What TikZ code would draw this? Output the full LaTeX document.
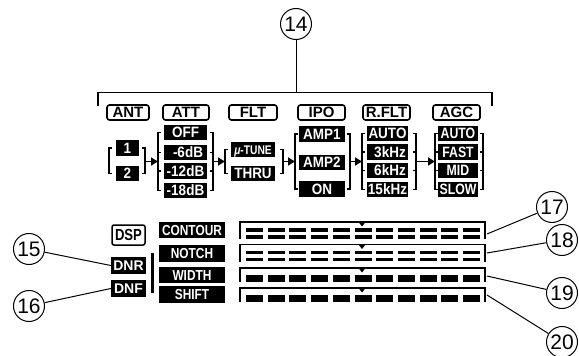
\documentclass[tikz,border=0pt]{standalone}
\usepackage{fontspec}
\setmainfont{Liberation Sans}
\newfontfamily\condA[FakeStretch=0.9]{Liberation Sans}
\newfontfamily\condB[FakeStretch=0.82]{Liberation Sans}
\usetikzlibrary{arrows.meta}
\tikzset{
  hdr/.style={draw, line width=1.6pt, rounded corners=2.5pt, inner sep=0pt, minimum height=15pt, text height=10.6pt, text depth=0pt, font=\fontsize{15}{15}\selectfont\bfseries},
  optbox/.style={fill=black, text=white, inner sep=0pt, minimum height=15.5pt, text height=10.6pt, text depth=0pt, font=\condA\fontsize{15}{15}\selectfont\bfseries},
  optc/.style={optbox, font=\condB\fontsize{15}{15}\selectfont\bfseries},
  lbl/.style={optbox, minimum height=16.5pt, minimum width=66pt, text height=10.2pt, font=\condB\fontsize{14.5}{14.5}\selectfont\bfseries},
  dbox/.style={optbox, minimum width=35pt, minimum height=17pt, text height=10pt, font=\fontsize{14}{14}\selectfont\bfseries},
  brk/.style={line width=1.3pt},
  arr/.style={line width=1.5pt, -{Triangle[length=7pt,width=8pt]}},
  num/.style={circle, draw, line width=1pt, minimum size=31pt, inner sep=0pt, font=\fontsize{21}{21}\selectfont},
  lead/.style={line width=1pt},
  meterline/.style={line width=1.8pt},
}
\newcommand\brkt[5]{%
  \draw[brk] ({#1+(#2)},#3) -- (#1,#3) -- (#1,#4) -- ({#1+(#2)},#4);
  \foreach \yy in {#5} {\draw[brk] (#1,\yy) -- ++(#2,0);}
}
\begin{document}
\begin{tikzpicture}[x=1pt,y=-1pt]
\useasboundingbox (0,0) rectangle (579,356);

% callout 14 and bracket line
\node[num] (c14) at (296,24) {14};
\coordinate (t14) at (296,92.5);
\draw[lead] (c14) -- (t14);
\draw[line width=1.3pt] (98,106) -- (98,92.5) -- (492,92.5) -- (492,106);

% headers
\node[hdr, minimum width=42pt] (hANT) at (128,112.5) {ANT};
\node[hdr, minimum width=46pt] (hATT) at (186,112.5) {ATT};
\node[hdr, minimum width=48pt] (hFLT) at (253,112.5) {FLT};
\node[hdr, minimum width=47pt] (hIPO) at (321.5,112.5) {IPO};
\node[hdr, minimum width=47pt] (hRF) at (386.5,112.5) {R.FLT};
\node[hdr, minimum width=47pt] (hAGC) at (456.5,112.5) {AGC};

% ANT
\node[optbox, minimum width=23pt] (a1) at (127.5,148) {1};
\node[optbox, minimum width=23pt] (a2) at (127.5,173.5) {2};
\brkt{109}{3}{148}{173.5}{148}
\brkt{145}{-3}{148}{173.5}{148}

% ATT
\node[optbox, minimum width=43pt] (t1) at (185.5,132.5) {OFF};
\node[optbox, minimum width=43pt] (t2) at (185.5,152.5) {\hspace*{5pt}-6dB};
\node[optbox, minimum width=43pt] (t3) at (185.5,171) {-12dB};
\node[optbox, minimum width=43pt] (t4) at (185.5,190.5) {-18dB};
\brkt{158}{3}{132.5}{190.5}{152.5,171}
\brkt{213}{-3}{132.5}{190.5}{152.5,171}

% FLT
\node[optbox, minimum width=44pt, font=\condB\fontsize{12.5}{12.5}\selectfont\bfseries, text height=9pt] (f1) at (253,149.5) {{\itshape μ}-TUNE};
\node[optbox, minimum width=44pt] (f2) at (253,173.5) {THRU};
\brkt{225}{3}{149.5}{173.5}{149.5}
\brkt{283}{-3}{149.5}{173.5}{149.5}

% IPO
\node[optbox, minimum width=46pt] (i1) at (322,134) {AMP1};
\node[optbox, minimum width=46pt] (i2) at (322,162.5) {AMP2};
\node[optbox, minimum width=46pt] (i3) at (322,189) {ON};
\brkt{295}{3}{134}{189}{134}
\brkt{350}{-3}{134}{189}{134}

% R.FLT
\node[optbox, minimum width=41pt] (r1) at (387.5,133.5) {AUTO};
\node[optbox, minimum width=41pt] (r2) at (387.5,152) {\hspace*{5pt}3kHz};
\node[optbox, minimum width=41pt] (r3) at (387.5,170.5) {\hspace*{5pt}6kHz};
\node[optbox, minimum width=41pt] (r4) at (387.5,189.5) {15kHz};
\brkt{362}{3}{133.5}{189.5}{152,170.5}
\brkt{416}{-3}{133.5}{189.5}{152,170.5}

% AGC
\node[optc, minimum width=40pt] (g1) at (458,133.5) {AUTO};
\node[optc, minimum width=40pt] (g2) at (458,152) {FAST};
\node[optc, minimum width=40pt] (g3) at (458,170.5) {MID};
\node[optc, minimum width=40pt] (g4) at (458,189.5) {SLOW};
\brkt{435}{3}{133.5}{189.5}{152,170.5}
\brkt{483}{-3}{133.5}{189.5}{152,170.5}

% arrows
\coordinate (antR) at (145,161.5);
\coordinate (attL) at (158,161.5);
\coordinate (attR) at (213,161.5);
\coordinate (fltL) at (225,161.5);
\coordinate (fltR) at (283,161.5);
\coordinate (ipoL) at (295,161.5);
\coordinate (ipoR) at (350,161.5);
\coordinate (rfL) at (362,161.5);
\coordinate (rfR) at (416,161.5);
\coordinate (agcL) at (435,161.5);
\draw[arr] (antR) -- (attL);
\draw[arr] (attR) -- (fltL);
\draw[arr] (fltR) -- (ipoL);
\draw[arr] (ipoR) -- (rfL);
\draw[arr] (rfR) -- (agcL);

% DSP block
\node[draw, line width=1.5pt, rounded corners=2pt, minimum width=33pt, minimum height=20pt, inner sep=0pt, text height=11pt, text depth=0pt, font=\condB\fontsize{16}{16}\selectfont\bfseries] (dsp) at (128.5,235) {DSP};
\node[dbox] (dnr) at (128.5,265.5) {DNR};
\node[dbox] (dnf) at (128.5,288.5) {DNF};
\draw[line width=3pt] (152,253) -- (152,293);

\node[lbl] (lc) at (192,230) {CONTOUR};
\node[lbl] (ln) at (192,253.5) {NOTCH};
\node[lbl] (lw) at (192,275) {WIDTH};
\node[lbl] (ls) at (192,294.5) {SHIFT};

% meters
\foreach \t/\b/\k in {222/238.5/2, 244.5/262/2, 268/282/1, 288/302/1} {
  \draw[meterline] (240,\b) -- (240,\t) -- (485,\t) -- (485,\b);
  \fill (358.5,\t) -- (365.5,\t) -- (362,\t+4.5) -- cycle;
  \ifnum\k=2
    \foreach \i in {0,...,10} {
      \fill (246+21.7*\i,\t+6) rectangle ++(17,3.5);
      \fill (246+21.7*\i,\t+13) rectangle ++(17,3.5);
    }
  \else
    \foreach \i in {0,...,10} {
      \fill (246+21.7*\i,\t+7) rectangle ++(17,6.5);
    }
  \fi
}

% callouts left
\node[num] (c15) at (29,249) {15};
\node[num] (c16) at (29,306) {16};
\draw[lead] (c15) -- (dnr.west);
\draw[lead] (c16) -- (dnf.west);

% callouts right
\node[num] (c17) at (552,207) {17};
\node[num] (c18) at (562,240) {18};
\node[num] (c19) at (562,293) {19};
\node[num] (c20) at (562,342) {20};
\coordinate (m17) at (487,234);
\coordinate (m18) at (487,253);
\coordinate (m19) at (487,276);
\coordinate (m20) at (487,295);
\draw[lead] (m17) -- (c17);
\draw[lead] (m18) -- (c18);
\draw[lead] (m19) -- (c19);
\draw[lead] (m20) -- (c20);
\end{tikzpicture}
\end{document}
